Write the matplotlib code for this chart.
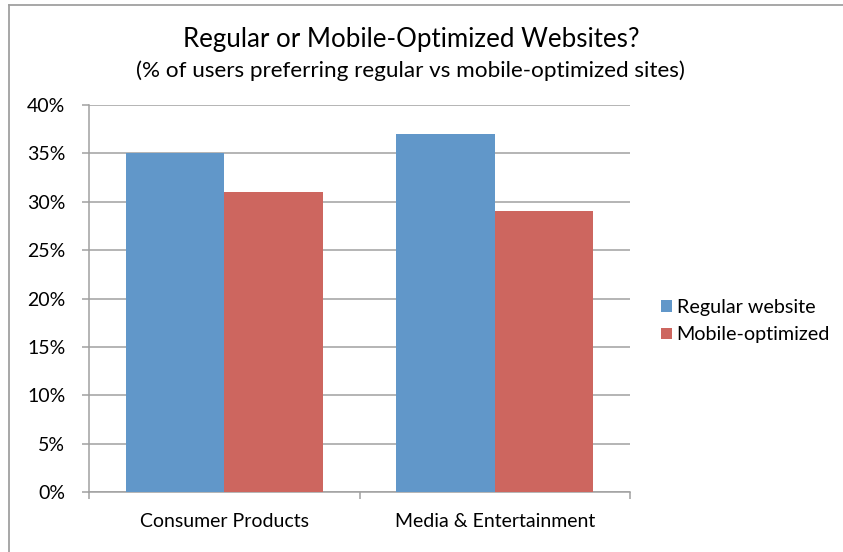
import matplotlib.pyplot as plt
import numpy as np
from matplotlib.lines import Line2D
from matplotlib.ticker import FuncFormatter, MultipleLocator

plt.rcParams["font.family"] = ["Lato", "DejaVu Sans"]

CATEGORIES = ["Consumer Products", "Media & Entertainment"]
SERIES_NAMES = ["Regular website", "Mobile-optimized"]
REGULAR = [35, 37]
MOBILE = [31, 29]
COLORS = ["#6197c9", "#cd665f"]
GRID_COLOR = "#a0a0a0"


def main() -> None:
    fig = plt.figure(figsize=(8.43, 5.52), dpi=100)
    ax = fig.add_axes((89 / 843, 60 / 552, 541 / 843, 387 / 552))

    x = np.arange(len(CATEGORIES))
    width = 0.364
    ax.bar(x - width / 2, REGULAR, width, color=COLORS[0], label=SERIES_NAMES[0], zorder=3)
    ax.bar(x + width / 2, MOBILE, width, color=COLORS[1], label=SERIES_NAMES[1], zorder=3)

    ax.set_xlim(-0.5, 1.5)
    ax.set_ylim(0, 40)
    ax.yaxis.set_major_locator(MultipleLocator(5))
    ax.yaxis.set_major_formatter(FuncFormatter(lambda v, _: f"{v:.0f}%"))
    ax.grid(axis="y", color=GRID_COLOR, linewidth=1.1, zorder=0)

    # category boundaries carry the tick marks, names sit at the centres
    ax.set_xticks([-0.5, 0.5, 1.5])
    ax.set_xticklabels([])
    ax.set_xticks(x, minor=True)
    ax.set_xticklabels(CATEGORIES, minor=True, fontsize=14)
    ax.tick_params(axis="x", which="minor", length=0, pad=15)
    ax.tick_params(axis="x", which="major", length=5, width=1.1, color=GRID_COLOR)
    ax.tick_params(axis="y", length=5, width=1.1, color=GRID_COLOR, labelsize=14, pad=12)

    for side in ("top", "right"):
        ax.spines[side].set_visible(False)
    for side in ("left", "bottom"):
        ax.spines[side].set_color(GRID_COLOR)
        ax.spines[side].set_linewidth(1.1)

    fig.text(411 / 843, 1 - 39 / 552, "Regular or Mobile-Optimized Websites?",
             ha="center", va="center", fontsize=18.6)
    fig.text(410 / 843, 1 - 71 / 552, "(% of users preferring regular vs mobile-optimized sites)",
             ha="center", va="center", fontsize=16.2)

    fig.legend(loc="center left", bbox_to_anchor=(653 / 843, 1 - 321 / 552),
               frameon=False, fontsize=14.2, handlelength=0.55, handleheight=0.55,
               handletextpad=0.25, labelspacing=0.55, borderaxespad=0)

    # outer chart border (only top and left edges fall inside the image)
    fig.add_artist(Line2D([9 / 843, 1], [1 - 5 / 552] * 2, transform=fig.transFigure,
                          color=GRID_COLOR, linewidth=1.3))
    fig.add_artist(Line2D([9 / 843] * 2, [0, 1 - 5 / 552], transform=fig.transFigure,
                          color=GRID_COLOR, linewidth=1.3))

    fig.savefig("out.png", dpi=100)


if __name__ == "__main__":
    main()
